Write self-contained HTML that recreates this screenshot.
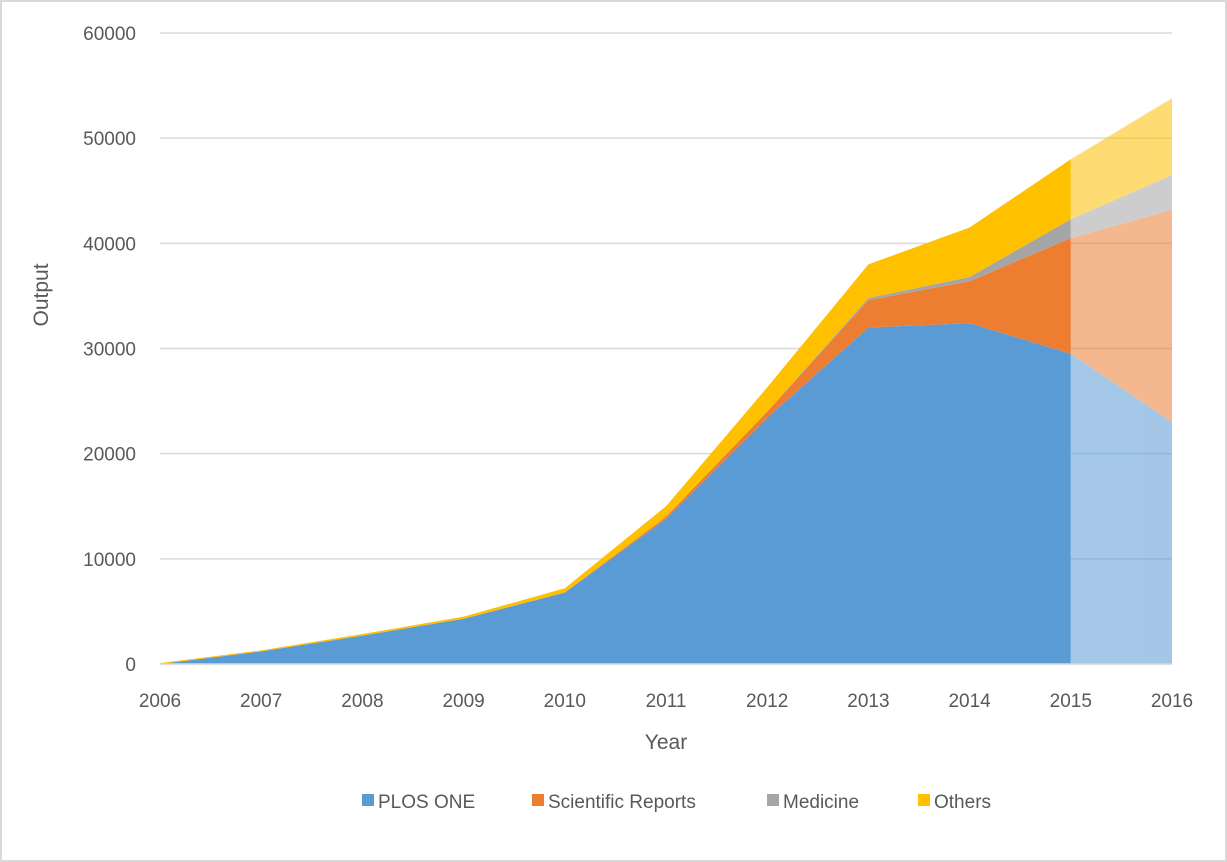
<!DOCTYPE html>
<html><head><meta charset="utf-8"><style>
html,body{margin:0;padding:0;background:#fff;}
svg{display:block;font-family:"Liberation Sans",sans-serif;}
</style></head><body>
<svg id="chart" width="1227" height="862">
<rect x="1" y="1" width="1225" height="860" fill="#fff" stroke="#d9d9d9" stroke-width="2"/>
<defs>
<clipPath id="solidClip"><rect id="solidRect" x="0" y="0" width="0" height="862"/></clipPath>
<clipPath id="lightClip"><rect id="lightRect" x="0" y="0" width="0" height="862"/></clipPath>
</defs>
<g id="grid"></g>
<g id="areasSolid" clip-path="url(#solidClip)"></g>
<g id="areasLight" clip-path="url(#lightClip)" opacity="0.55"></g>
<g id="axes"></g>
<g id="legend"></g>
</svg>
<script>
const years = [2006,2007,2008,2009,2010,2011,2012,2013,2014,2015,2016];
const plosOne = [0,1200,2700,4300,6800,13800,23400,32000,32400,29500,23000];
const sciReports = [0,0,0,0,0,200,600,2600,4000,11000,20200];
const medicine = [0,0,0,0,0,0,0,200,400,1800,3300];
const others = [100,100,150,200,400,1000,2300,3200,4700,5700,7300];
const yTicks = [0,10000,20000,30000,40000,50000,60000];
const seriesNames = ["PLOS ONE","Scientific Reports","Medicine","Others"];
const seriesColors = ["#5b9bd5","#ed7d31","#a5a5a5","#ffc000"];
const projectionStartYear = 2015;

const NS="http://www.w3.org/2000/svg";
const X0=160,X1=1172,Y0=664,Y1=33;
const xs=y=>X0+(y-years[0])/(years[years.length-1]-years[0])*(X1-X0);
const ys=v=>Y0-v/60000*(Y0-Y1);
function mk(tag,attrs,parent){const e=document.createElementNS(NS,tag);for(const k in attrs)e.setAttribute(k,attrs[k]);parent.appendChild(e);return e;}

document.getElementById('solidRect').setAttribute('width',xs(projectionStartYear));
document.getElementById('lightRect').setAttribute('x',xs(projectionStartYear));
document.getElementById('lightRect').setAttribute('width',1227);

const grid=document.getElementById('grid');
yTicks.forEach(t=>{
  const l=mk('line',{x1:X0,x2:X1,y1:ys(t),y2:ys(t),stroke:'#d9d9d9','stroke-width':1.5},grid);
  
  
  const tx=mk('text',{x:136,y:ys(t)+7,'text-anchor':'end','font-size':19,fill:'#595959'},grid);
  tx.textContent=t;
  
  
});

const data=[plosOne,sciReports,medicine,others];
const cum=years.map(()=>0);
const layers=[];
data.forEach((s,i)=>{
  const lower=cum.slice();
  s.forEach((v,j)=>cum[j]+=v);
  const upper=cum.slice();
  let d='M'+years.map((y,j)=>xs(y)+','+ys(upper[j])).join('L');
  for(let j=years.length-1;j>=0;j--)d+='L'+xs(years[j])+','+ys(lower[j]);
  d+='Z';
  layers.push(d);
});
['areasSolid','areasLight'].forEach(g=>{
  const grp=document.getElementById(g);
  layers.forEach((d,i)=>{
    const p=mk('path',{d:d,fill:seriesColors[i]},grp);
    
    
  });
});

const axes=document.getElementById('axes');
const ax=mk('line',{x1:X0,x2:X1,y1:Y0,y2:Y0,stroke:'#d9d9d9','stroke-width':1.5},axes);


years.forEach(y=>{
  const t=mk('text',{x:xs(y),y:707,'text-anchor':'middle','font-size':19,fill:'#595959'},axes);
  t.textContent=y;
  
  
});
const xt=mk('text',{x:666,y:749,'text-anchor':'middle','font-size':21,fill:'#595959'},axes);
xt.textContent='Year';


const yt=mk('text',{x:0,y:0,'text-anchor':'middle','font-size':21,fill:'#595959',transform:'translate(48,295) rotate(-90)'},axes);
yt.textContent='Output';



const legend=document.getElementById('legend');
const lx=[362,532,767,918];
seriesNames.forEach((n,i)=>{
  const g=mk('g',{},legend);
  
  
  mk('rect',{x:lx[i],y:794,width:12,height:12,fill:seriesColors[i]},g);
  const t=mk('text',{x:lx[i]+16,y:808,'font-size':19,fill:'#595959'},g);
  t.textContent=n;
});
</script>
</body></html>
